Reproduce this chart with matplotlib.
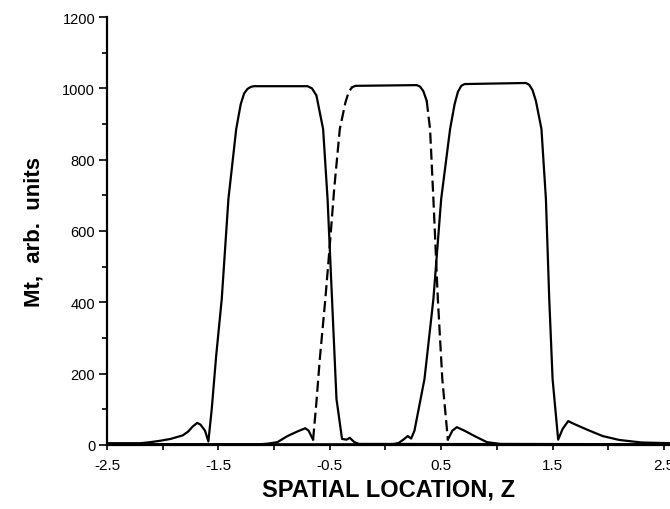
import numpy as np
import matplotlib
matplotlib.use("Agg")
import matplotlib.pyplot as plt

plt.rcParams['font.family'] = ['Liberation Sans', 'DejaVu Sans']
plt.rcParams['axes.unicode_minus'] = False

# slice profiles (z, Mt)
left_z = [-2.50, -2.20, -2.11, -2.02, -1.93, -1.82, -1.77, -1.73, -1.69, -1.66, -1.62, -1.59,
          -1.56, -1.52, -1.47, -1.41, -1.34, -1.30, -1.27, -1.24, -1.21, -1.18, -0.70, -0.66,
          -0.62, -0.56, -0.52, -0.48, -0.44, -0.39, -0.35, -0.32, -0.28, -0.24, 2.56]
left_m = [5, 5, 8, 12, 17, 27, 38, 52, 62, 57, 40, 10,
          100, 250, 409, 690, 886, 955, 985, 998, 1004, 1006, 1006, 1000,
          980, 886, 690, 409, 129, 17, 15, 20, 8, 3, 2]

mid_z = [-2.50, -1.13, -1.05, -0.97, -0.88, -0.79, -0.72, -0.69, -0.65,
         -0.62, -0.59, -0.54, -0.50, -0.46, -0.41, -0.36, -0.33, -0.30, -0.27,
         0.28, 0.31, 0.34, 0.37, 0.40, 0.43, 0.47, 0.51, 0.56, 0.60, 0.64,
         0.71, 0.80, 0.91, 1.03, 2.56]
mid_m = [2, 2, 4, 8, 25, 38, 47, 40, 15,
         120, 240, 409, 560, 720, 886, 960, 990, 1003, 1007,
         1009, 1005, 992, 965, 886, 690, 409, 185, 15, 40, 50,
         40, 25, 8, 3, 2]

right_z = [-2.50, 0.07, 0.12, 0.16, 0.20, 0.23, 0.26, 0.35, 0.43, 0.50, 0.58,
           0.62, 0.65, 0.68, 0.71, 1.26, 1.29, 1.32, 1.35, 1.40, 1.44, 1.47, 1.50, 1.55,
           1.59, 1.64, 1.70, 1.81, 1.95, 2.10, 2.30, 2.56]
right_m = [2, 2, 6, 15, 25, 18, 40, 185, 409, 690, 886,
           955, 990, 1007, 1012, 1015, 1010, 995, 965, 886, 690, 409, 185, 15,
           45, 67, 58, 43, 25, 14, 7, 5]

# edges of the middle slice are drawn dashed
dash_spans = [(-0.65, -0.30), (0.37, 0.56)]

xticks_major = [-2.5, -1.5, -0.5, 0.5, 1.5, 2.5]
xtick_labels = ['-2.5', '-1.5', '-0.5', '0.5', '1.5', '2.5']
xticks_minor = [-2, -1, 0, 1, 2]

fig = plt.figure(figsize=(6.7, 5.1), dpi=100)
ax = fig.add_axes([0.1597, 0.1255, 1.0 - 0.1597, 0.9647 - 0.1255])

lw = 1.6
ax.plot(left_z, left_m, color='black', lw=lw, solid_joinstyle='round')
ax.plot(right_z, right_m, color='black', lw=lw, solid_joinstyle='round')

mz = np.array(mid_z)
mm = np.array(mid_m, dtype=float)
in_dash = np.zeros(len(mz), dtype=bool)
inside = np.zeros(len(mz), dtype=bool)
for a, b in dash_spans:
    in_dash |= (mz >= a) & (mz <= b)
    inside |= (mz > a) & (mz < b)
ax.plot(mz, np.where(inside, np.nan, mm), color='black', lw=lw, solid_joinstyle='round')
ax.plot(mz, np.where(in_dash, mm, np.nan), color='black', lw=lw,
        dashes=(5, 2.2))

ax.set_xlim(-2.5, 2.554)
ax.set_ylim(0, 1200)

for side in ['top', 'right']:
    ax.spines[side].set_visible(False)
for side in ['left', 'bottom']:
    ax.spines[side].set_linewidth(1.6)

ax.set_xticks(xticks_major)
ax.set_xticklabels(xtick_labels)
ax.set_xticks(xticks_minor, minor=True)
ax.set_yticks(range(0, 1201, 200))
ax.set_yticks(range(100, 1200, 200), minor=True)

ax.tick_params(axis='x', which='both', direction='out', length=3.5, width=1.2,
               labelsize=11, pad=6)
ax.tick_params(axis='y', which='major', direction='out', length=5.5, width=1.2,
               labelsize=10.5, pad=3)
ax.tick_params(axis='y', which='minor', direction='out', length=3.5, width=1.2)

ax.set_xlabel('SPATIAL LOCATION, Z', fontsize=17, fontweight='bold', labelpad=4)
ax.set_ylabel('Mt,  arb.  units', fontsize=16, fontweight='bold', labelpad=13)

fig.savefig('out.png', dpi=100)
